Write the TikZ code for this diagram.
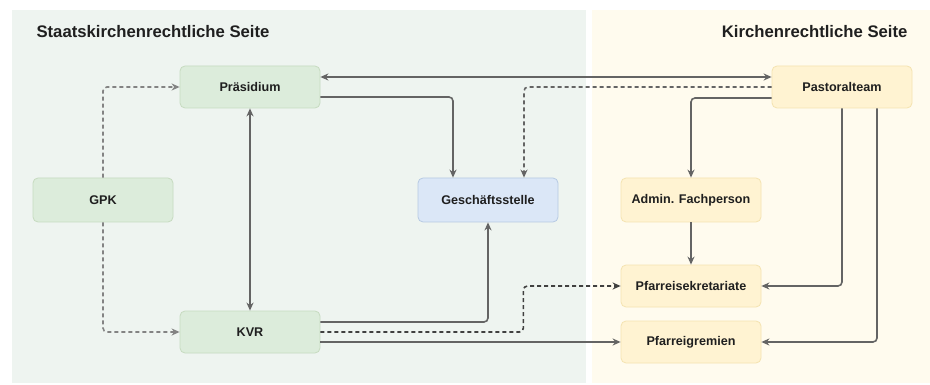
\documentclass[tikz,border=0pt]{standalone}
\usepackage{fontspec}
\setmainfont{Liberation Sans}
\usepackage{xcolor}
\usetikzlibrary{arrows.meta,positioning}
\definecolor{staatbg}{RGB}{238,244,240}
\definecolor{kirchebg}{RGB}{255,251,238}
\definecolor{staatgreen}{RGB}{220,236,219}
\definecolor{staatline}{RGB}{198,219,192}
\definecolor{officeblue}{RGB}{219,231,247}
\definecolor{officeline}{RGB}{182,201,227}
\definecolor{kirchyellow}{RGB}{255,243,210}
\definecolor{kirchline}{RGB}{244,227,176}
\definecolor{linkgray}{RGB}{100,100,100}

\begin{document}
\begin{tikzpicture}[
    x=1pt, y=-1pt,
    box/.style={draw, rounded corners=5pt, minimum width=140pt, minimum height=42pt, line width=0.8pt, text=black!88, font=\fontsize{12.6}{14}\selectfont\bfseries},
    staat/.style={box, fill=staatgreen, draw=staatline},
    office/.style={box, fill=officeblue, draw=officeline},
    kirche/.style={box, fill=kirchyellow, draw=kirchline},
    sidetitle/.style={text=black!88, font=\fontsize{16.7}{19}\selectfont\bfseries},
    link/.style={draw=linkgray, line width=1.6pt, rounded corners=4pt, -{Stealth[length=8pt,width=7pt]}},
    twoway/.style={link, {Stealth[length=8pt,width=7pt]}-{Stealth[length=8pt,width=7pt]}},
    weak/.style={link, dash pattern=on 4pt off 3pt}
]
\useasboundingbox (0,0) rectangle (930,385);

% the two sides
\fill[staatbg] (12,10) rectangle (586,383);
\fill[kirchebg] (592,10) rectangle (930,383);
\node[sidetitle, anchor=west] (staattitle) at (33,32) {Staatskirchenrechtliche Seite};
\node[sidetitle, anchor=east] (kirchetitle) at (911,32) {Kirchenrechtliche Seite};

% bodies
\node[staat] (praesidium) at (250,87) {Präsidium};
\node[staat, minimum height=44pt] (gpk) at (103,200) {GPK};
\node[staat] (kvr) at (250,332) {KVR};
\node[office, minimum height=44pt] (office) at (488,200) {Geschäftsstelle};
\node[kirche] (pastoral) at (842,87) {Pastoralteam};
\node[kirche, minimum height=44pt] (admin) at (691,200) {Admin. Fachperson};
\node[kirche] (sekretariat) at (691,286) {Pfarreisekretariate};
\node[kirche] (gremien) at (691,342) {Pfarreigremien};

% connections
\draw[twoway] ([yshift=10pt]praesidium.east) -- ([yshift=10pt]pastoral.west);
\draw[link] ([yshift=-10pt]praesidium.east) -| ([xshift=-35pt]office.north);
\draw[weak] (pastoral.west) -| ([xshift=36pt]office.north);
\draw[link] ([yshift=-11pt]pastoral.west) -| (admin.north);
\draw[link] (pastoral.south) |- (sekretariat.east);
\draw[link] ([xshift=35pt]pastoral.south) |- (gremien.east);
\draw[link] (admin) -- (sekretariat);
\draw[weak, draw=linkgray!80] (gpk.north) |- (praesidium.west);
\draw[weak, draw=linkgray!80] (gpk.south) |- (kvr.west);
\draw[twoway] (praesidium) -- (kvr);
\draw[link] ([yshift=10pt]kvr.east) -| (office.south);
\draw[weak, draw=black!75] (kvr.east) -- ++(203,0) |- (sekretariat.west);
\draw[link] ([yshift=-10pt]kvr.east) -- (gremien.west);

\end{tikzpicture}
\end{document}
